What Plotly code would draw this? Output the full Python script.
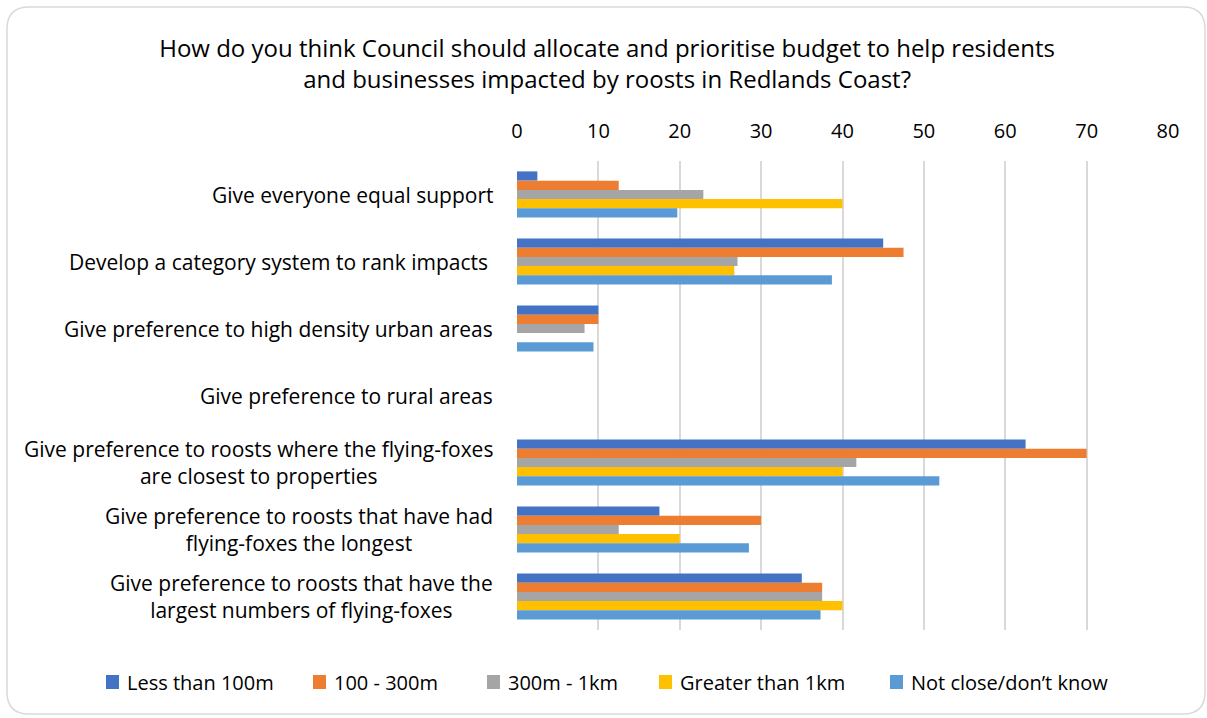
import plotly.graph_objects as go

categories = [
    "Give everyone equal support",
    "Develop a category system to rank impacts ",
    "Give preference to high density urban areas",
    "Give preference to rural areas",
    "Give preference to roosts where the flying-foxes<br>are closest to properties",
    "Give preference to roosts that have had<br>flying-foxes the longest",
    "Give preference to roosts that have the<br>largest numbers of flying-foxes",
]
series_names = ["Less than 100m", "100 - 300m", "300m - 1km", "Greater than 1km", "Not close/don\u2019t know"]
less_100m = [2.5, 45.0, 10.0, 0, 62.5, 17.5, 35.0]
m100_300 = [12.5, 47.5, 10.0, 0, 70.0, 30.0, 37.5]
m300_1km = [22.9, 27.1, 8.3, 0, 41.7, 12.5, 37.5]
greater_1km = [40.0, 26.7, 0, 0, 40.0, 20.0, 40.0]
not_close = [19.7, 38.7, 9.4, 0, 51.9, 28.5, 37.3]
series_values = [less_100m, m100_300, m300_1km, greater_1km, not_close]
colors = ["#4472C4", "#ED7D31", "#A5A5A5", "#FFC000", "#5B9BD5"]
x_ticks = [0, 10, 20, 30, 40, 50, 60, 70, 80]

FONT = "Open Sans"
W, H = 1207, 718
ML, MR, MT, MB = 517, 39, 161, 88

fig = go.Figure()
for name, vals, col in zip(series_names, series_values, colors):
    fig.add_trace(go.Bar(
        y=categories, x=vals, name=name, orientation="h",
        marker=dict(color=col, line=dict(width=0)),
        showlegend=False,
    ))

for cat in categories:
    fig.add_annotation(
        x=0, xref="paper", y=cat, yref="y", xshift=-22,
        xanchor="right", yanchor="middle", align="center",
        text=cat, showarrow=False,
        font=dict(family=FONT, size=21, color="#000000"),
    )

# pixel -> paper helpers
pw, ph = W - ML - MR, H - MT - MB
def px(x):
    return (x - ML) / pw
def py(y):
    return 1 - (y - MT) / ph

# rounded outer border
x0, x1, y0, y1, r = 7, 1205, 7, 714, 22
path = (f"M {px(x0+r)},{py(y0)} L {px(x1-r)},{py(y0)} "
        f"Q {px(x1)},{py(y0)} {px(x1)},{py(y0+r)} "
        f"L {px(x1)},{py(y1-r)} Q {px(x1)},{py(y1)} {px(x1-r)},{py(y1)} "
        f"L {px(x0+r)},{py(y1)} Q {px(x0)},{py(y1)} {px(x0)},{py(y1-r)} "
        f"L {px(x0)},{py(y0+r)} Q {px(x0)},{py(y0)} {px(x0+r)},{py(y0)} Z")
fig.add_shape(type="path", path=path, xref="paper", yref="paper",
              line=dict(color="#D9D9D9", width=1.5), layer="below")

# legend (drawn manually to keep it on one row)
legend_square_left = [106, 313, 487, 659, 890]
legend_y = 682
for name, col, sx in zip(series_names, colors, legend_square_left):
    fig.add_shape(type="rect", xref="paper", yref="paper",
                  x0=px(sx), x1=px(sx + 13), y0=py(legend_y - 7), y1=py(legend_y + 7),
                  fillcolor=col, line=dict(width=0))
    fig.add_annotation(x=px(sx + 19), y=py(legend_y), xref="paper", yref="paper",
                       xanchor="left", yanchor="middle", text=name, showarrow=False,
                       font=dict(family=FONT, size=20, color="#000000"))

fig.update_layout(
    width=W, height=H,
    margin=dict(l=ML, r=MR, t=MT, b=MB, autoexpand=False),
    paper_bgcolor="white", plot_bgcolor="white",
    barmode="group", bargap=0.31, bargroupgap=0,
    showlegend=False,
    title=dict(
        text="How do you think Council should allocate and prioritise budget to help residents<br>and businesses impacted by roosts in Redlands Coast?",
        x=0.503, xanchor="center", y=0.921, yanchor="middle",
        font=dict(family=FONT, size=24, color="#000000"),
    ),
    xaxis=dict(
        side="top", range=[0, 80], tickvals=x_ticks, ticktext=[str(t) for t in x_ticks],
        showgrid=True, gridcolor="#D9D9D9", gridwidth=2,
        zeroline=False, showline=False, ticks="", ticklabelstandoff=18,
        tickfont=dict(family=FONT, size=20, color="#000000"),
    ),
    yaxis=dict(
        autorange="reversed", showticklabels=False, showgrid=False,
        zeroline=False, showline=False, ticks="",
    ),
)

fig.write_html("out.html")
